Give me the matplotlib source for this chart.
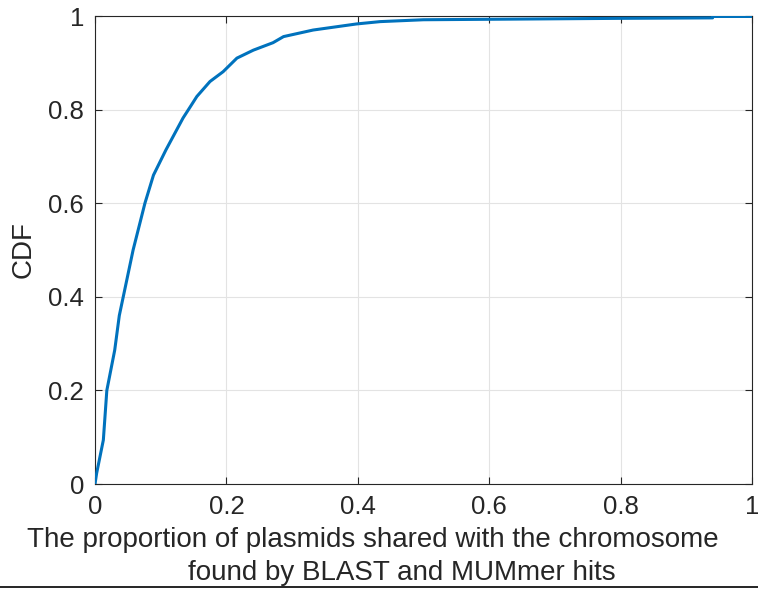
import matplotlib
matplotlib.use("Agg")
import matplotlib.pyplot as plt
from matplotlib.lines import Line2D

plt.rcParams['font.family'] = ['Liberation Sans', 'DejaVu Sans']

# Empirical CDF of the shared proportion (knots along the curve)
share_prop = [0.0, 0.0025, 0.0127, 0.018, 0.030, 0.037, 0.043, 0.058, 0.076,
              0.089, 0.108, 0.134, 0.145, 0.155, 0.175, 0.195, 0.216, 0.241,
              0.271, 0.287, 0.332, 0.398, 0.434, 0.50, 0.60, 0.80, 0.94, 0.94, 1.0]
cdf_vals = [0.0, 0.023, 0.094, 0.20, 0.286, 0.36, 0.40, 0.50, 0.60,
            0.66, 0.714, 0.782, 0.806, 0.828, 0.860, 0.881, 0.910, 0.927,
            0.943, 0.956, 0.970, 0.983, 0.988, 0.992, 0.993, 0.995, 0.996, 0.999, 0.999]

x_ticks = [0, 0.2, 0.4, 0.6, 0.8, 1]
x_tick_labels = ['0', '0.2', '0.4', '0.6', '0.8', '1']
y_ticks = [0, 0.2, 0.4, 0.6, 0.8, 1]
y_tick_labels = ['0', '0.2', '0.4', '0.6', '0.8', '1']

W, H = 758, 589
fig = plt.figure(figsize=(W / 100, H / 100), dpi=100)
ax = fig.add_axes([95 / W, 1 - 484 / H, (752 - 95) / W, (484 - 16) / H])

ax.plot(share_prop, cdf_vals, color='#0072BD', lw=2.2, zorder=3)

ax.set_xlim(0, 1)
ax.set_ylim(0, 1)
ax.set_xticks(x_ticks)
ax.set_xticklabels(x_tick_labels)
ax.set_yticks(y_ticks)
ax.set_yticklabels(y_tick_labels)
ax.grid(True, color='#e3e3e3', lw=0.8)
ax.set_axisbelow(True)
for s in ax.spines.values():
    s.set_color('#262626')
    s.set_linewidth(0.8)
ax.tick_params(direction='in', length=5, width=0.8, color='#262626',
               labelsize=18.5, labelcolor='#262626', top=True, right=True, pad=8)

ax.set_ylabel('CDF', fontsize=20, color='#262626', labelpad=8)

fig.text(373 / W, 1 - 540 / H, 'The proportion of plasmids shared with the chromosome',
         ha='center', va='center', fontsize=20, color='#262626')
fig.text(402 / W, 1 - 573 / H, 'found by BLAST and MUMmer hits',
         ha='center', va='center', fontsize=20, color='#262626')

fig.add_artist(Line2D([0, 1], [1 - 587 / H, 1 - 587 / H], color='black', lw=1.2,
                      transform=fig.transFigure))

fig.savefig('out.png', dpi=100)
